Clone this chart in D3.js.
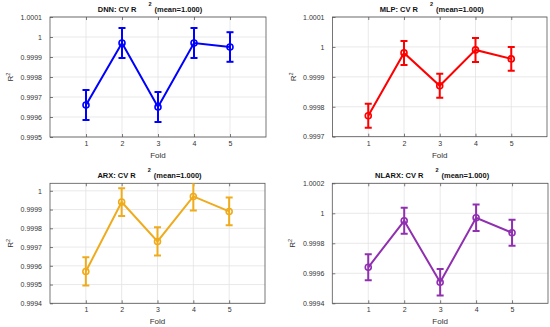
<!DOCTYPE html>
<html>
<head>
<meta charset="utf-8">
<script src="https://cdn.jsdelivr.net/npm/d3@7.9.0/dist/d3.min.js"></script>
<style>
  body { margin: 0; background: #fff; }
  svg { font-family: "Liberation Sans", Arial, sans-serif; }
</style>
</head>
<body>
<svg id="chart" width="550" height="327"></svg>
<script>
const folds = [1, 2, 3, 4, 5];

const dnnMean = [0.99966, 0.99997, 0.99965, 0.99997, 0.99995];
const dnnErr = [0.000075, 0.000075, 0.000075, 0.000075, 0.000074];
const mlpMean = [0.99977, 0.99998, 0.99987, 0.99999, 0.99996];
const mlpErr = [0.00004, 0.00004, 0.00004, 0.00004, 0.00004];
const arxMean = [0.99957, 0.99994, 0.99973, 0.99997, 0.99989];
const arxErr = [0.000075, 0.000074, 0.000075, 0.000075, 0.000074];
const nlarxMean = [0.99964, 0.99995, 0.99954, 0.99997, 0.99987];
const nlarxErr = [0.000087, 0.000087, 0.000088, 0.000088, 0.000087];

const dnnTicks = [0.9995, 0.9996, 0.9997, 0.9998, 0.9999, 1, 1.0001];
const mlpTicks = [0.9997, 0.9998, 0.9999, 1, 1.0001];
const arxTicks = [0.9994, 0.9995, 0.9996, 0.9997, 0.9998, 0.9999, 1];
const nlarxTicks = [0.9994, 0.9996, 0.9998, 1, 1.0002];

const panels = [
  { name: "DNN", mean: dnnMean, err: dnnErr, ticks: dnnTicks, yDomain: [0.9995, 1.0001],
    color: "#0000ff", left: 50, right: 266, top: 17, bottom: 137 },
  { name: "MLP", mean: mlpMean, err: mlpErr, ticks: mlpTicks, yDomain: [0.9997, 1.0001],
    color: "#ff0000", left: 332.5, right: 547, top: 17, bottom: 136.7 },
  { name: "ARX", mean: arxMean, err: arxErr, ticks: arxTicks, yDomain: [0.9994, 1.00004],
    color: "#efab1c", left: 50, right: 265, top: 183.3, bottom: 303.3 },
  { name: "NLARX", mean: nlarxMean, err: nlarxErr, ticks: nlarxTicks, yDomain: [0.9994, 1.0002],
    color: "#9030b0", left: 332.3, right: 548, top: 183.3, bottom: 303.3 }
];

const svg = d3.select("#chart");
const fmt = d3.format("~r");

panels.forEach((p, i) => {
  const w = p.right - p.left;
  const h = p.bottom - p.top;
  const x = d3.scaleLinear().domain([0, 6]).range([0, w]);
  const y = d3.scaleLinear().domain(p.yDomain).range([h, 0]);

  const g = svg.append("g").attr("transform", `translate(${p.left},${p.top})`);

  g.append("defs").append("clipPath").attr("id", "clip" + i)
    .append("rect").attr("width", w).attr("height", h);

  // grid
  g.selectAll(".gx").data(folds).enter().append("line")
    .attr("x1", (d) => x(d)).attr("x2", (d) => x(d))
    .attr("y1", 0).attr("y2", h)
    .attr("stroke", "#e3e3e3").attr("stroke-width", 0.8);
  g.selectAll(".gy").data(p.ticks).enter().append("line")
    .attr("x1", 0).attr("x2", w)
    .attr("y1", (d) => y(d)).attr("y2", (d) => y(d))
    .attr("stroke", "#e3e3e3").attr("stroke-width", 0.8);

  // axes
  const yAxis = d3.axisLeft(y).tickValues(p.ticks).tickSize(-3).tickPadding(8)
    .tickFormat((d) => fmt(+d.toPrecision(6)));
  const xAxis = d3.axisBottom(x).tickValues(folds).tickSize(-3).tickPadding(4)
    .tickFormat(d3.format("d"));
  const xTop = d3.axisTop(x).tickValues(folds).tickSize(-3).tickFormat("");

  const ya = g.append("g").call(yAxis);
  const xa = g.append("g").attr("transform", `translate(0,${h})`).call(xAxis);
  const xt = g.append("g").call(xTop);
  [ya, xa, xt].forEach((a) => {
    a.select(".domain").remove();
    a.selectAll("line").attr("stroke", "#444").attr("stroke-width", 0.7);
    a.selectAll("text").attr("fill", "#333").style("font-size", "7px");
  });

  g.append("rect").attr("width", w).attr("height", h)
    .attr("fill", "none").attr("stroke", "#555").attr("stroke-width", 0.8);

  // data
  const plot = g.append("g").attr("clip-path", `url(#clip${i})`);
  const pts = folds.map((f, k) => ({ f: f, m: p.mean[k], e: p.err[k] }));

  plot.append("path").datum(pts)
    .attr("d", d3.line().x((d) => x(d.f)).y((d) => y(d.m)))
    .attr("fill", "none").attr("stroke", p.color).attr("stroke-width", 2);

  const eb = plot.selectAll(".eb").data(pts).enter().append("g")
    .attr("stroke", p.color).attr("stroke-width", 2).attr("fill", "none");
  eb.append("line")
    .attr("x1", (d) => x(d.f)).attr("x2", (d) => x(d.f))
    .attr("y1", (d) => y(d.m - d.e)).attr("y2", (d) => y(d.m + d.e));
  eb.append("line")
    .attr("x1", (d) => x(d.f) - 3.5).attr("x2", (d) => x(d.f) + 3.5)
    .attr("y1", (d) => y(d.m + d.e)).attr("y2", (d) => y(d.m + d.e));
  eb.append("line")
    .attr("x1", (d) => x(d.f) - 3.5).attr("x2", (d) => x(d.f) + 3.5)
    .attr("y1", (d) => y(d.m - d.e)).attr("y2", (d) => y(d.m - d.e));
  eb.append("circle")
    .attr("cx", (d) => x(d.f)).attr("cy", (d) => y(d.m))
    .attr("r", 3).attr("stroke-width", 1.6);

  // labels
  const title = g.append("text")
    .attr("x", w / 2 - 8).attr("y", -5)
    .attr("text-anchor", "middle")
    .style("font-size", "7.5px").style("font-weight", "bold").attr("fill", "#111");
  title.append("tspan").text(p.name + ": CV R");
  title.append("tspan").attr("dx", 12).attr("dy", -6).style("font-size", "5.5px").text("2");
  title.append("tspan").attr("dx", 3).attr("dy", 6).text("(mean=1.000)");

  g.append("text")
    .attr("x", w / 2).attr("y", h + 21)
    .attr("text-anchor", "middle")
    .style("font-size", "8px").attr("fill", "#333").text("Fold");

  const yl = g.append("text")
    .attr("transform", `translate(${-37},${h / 2}) rotate(-90)`)
    .attr("text-anchor", "middle")
    .style("font-size", "8px").attr("fill", "#333");
  yl.append("tspan").text("R");
  yl.append("tspan").attr("dy", -3).style("font-size", "5.5px").text("2");
});
</script>
</body>
</html>
